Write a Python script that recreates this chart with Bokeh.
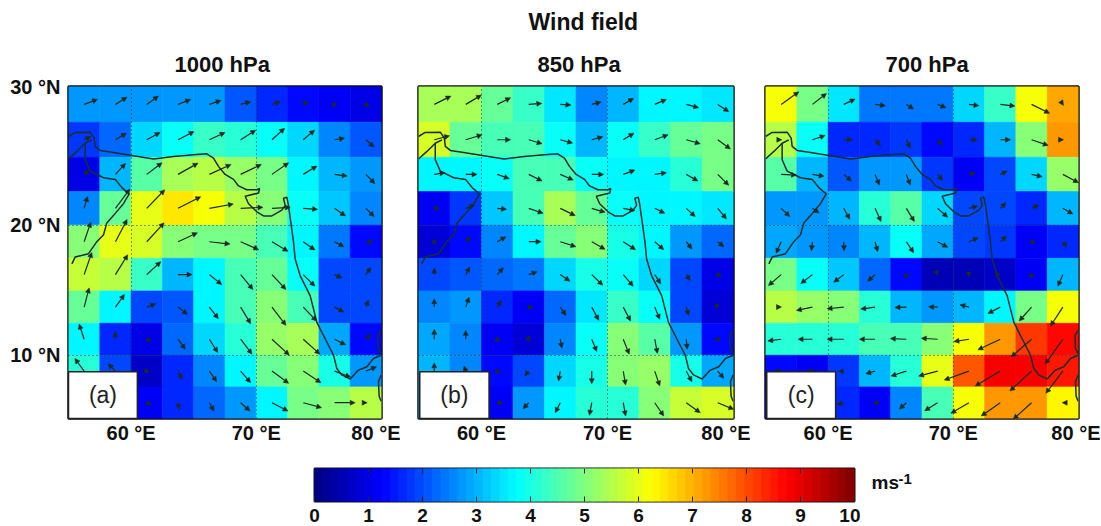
import numpy as np
from bokeh.plotting import figure
from bokeh.layouts import column, row
from bokeh.models import (Arrow, NormalHead, ColumnDataSource, FixedTicker, Title,
                          LinearColorMapper, Range1d)
from bokeh.core.properties import value
from bokeh.embed import file_html
from bokeh.resources import INLINE

speed_a = [
 [2.7,2.7,2.7,2.7,2.7,2.1,1.6,1.4,1.1,1.0],
 [1.8,2.2,3.4,3.9,4.3,4.1,3.8,3.4,2.6,2.1],
 [1.0,3.0,4.6,5.4,5.6,5.2,4.9,3.7,3.0,2.8],
 [2.6,4.7,6.0,6.5,6.2,5.6,5.0,3.8,3.2,2.5],
 [5.0,6.0,5.9,5.0,4.9,4.9,4.5,3.7,2.4,1.3],
 [5.7,5.6,4.3,3.0,3.6,4.5,4.7,3.8,2.0,2.0],
 [4.7,3.7,2.0,2.1,3.6,4.4,5.1,4.4,2.0,2.0],
 [3.7,1.7,1.0,2.2,3.3,4.2,5.2,5.4,2.9,1.4],
 [4.2,1.9,0.7,1.7,2.6,3.6,4.7,5.1,4.0,2.7],
 [4.3,2.2,1.1,1.6,2.2,2.8,3.7,4.9,5.1,5.6],
]
speed_b = [
 [5.4,5.4,4.8,4.3,3.5,2.6,3.0,3.6,3.7,3.5],
 [5.8,4.8,4.4,4.4,3.8,3.0,3.8,4.3,4.7,4.9],
 [3.7,3.7,3.8,4.4,4.4,3.8,3.7,3.7,4.2,4.9],
 [1.2,1.8,3.2,4.5,5.4,4.7,3.9,3.7,3.6,3.5],
 [0.9,1.3,2.5,3.7,4.8,5.0,4.0,3.6,2.7,2.2],
 [2.0,2.1,2.3,2.4,3.4,4.0,3.9,3.4,1.9,1.0],
 [2.6,2.8,1.7,1.1,2.2,3.5,4.3,3.8,1.9,0.9],
 [2.9,2.5,1.1,0.8,2.5,3.8,5.0,4.6,2.7,1.3],
 [3.0,2.6,1.3,1.9,3.3,4.0,5.1,5.2,4.0,2.9],
 [3.0,2.6,1.2,2.8,3.7,4.2,4.2,5.0,5.7,5.8],
]
speed_c = [
 [6.1,4.9,3.5,2.4,2.4,2.4,3.3,4.3,6.1,7.1],
 [5.6,3.8,1.7,1.6,1.8,1.3,1.6,3.1,5.1,7.2],
 [4.6,3.1,2.1,2.8,2.7,1.8,1.2,1.9,3.3,5.2],
 [2.8,2.8,3.0,4.1,4.6,3.3,1.9,2.0,1.7,3.0],
 [2.9,2.7,2.6,3.0,3.8,2.9,2.0,1.8,1.1,1.7],
 [4.9,3.8,3.2,2.3,1.3,0.6,0.6,0.7,1.1,3.0],
 [5.6,5.2,5.0,4.2,3.0,2.8,3.0,3.7,4.9,6.2],
 [4.1,4.1,4.1,4.4,4.4,5.0,6.2,7.3,8.2,8.6],
 [1.3,1.2,1.8,3.0,4.2,6.0,7.9,8.8,8.9,8.5],
 [1.5,1.5,1.7,1.1,2.6,4.5,6.2,7.3,7.3,6.4],
]

u_a = [
 [40,35,35,38,35,30,25,14,8,10],
 [20,33,40,48,47,45,38,34,30,25],
 [15,30,46,60,65,62,50,41,38,27],
 [10,43,54,68,72,67,55,43,33,25],
 [20,35,52,58,62,54,48,35,28,22],
 [23,37,42,42,37,37,42,35,22,15],
 [15,27,27,28,27,30,42,40,28,8],
 [-15,0,15,22,25,34,52,50,33,15],
 [-28,-22,7,13,22,30,50,53,48,32],
 [-20,-10,14,3,14,28,48,55,62,4],
]
v_a = [
 [15,22,25,15,12,8,8,10,0,-7],
 [10,20,22,25,22,29,35,29,5,-22],
 [12,33,35,34,30,30,35,25,-5,-28],
 [36,58,56,35,13,3,3,-3,-23,-25],
 [59,67,57,27,-7,-24,-29,-25,-15,0],
 [67,60,39,0,-30,-45,-45,-35,-10,22],
 [58,38,10,-22,-35,-50,-55,-42,-15,21],
 [46,23,-5,-30,-40,-45,-48,-45,-17,15],
 [38,22,-5,-25,-32,-35,-37,-35,-18,13],
 [30,20,-5,-20,-25,-25,-25,-15,0,0],
]
u_b = [
 [50,47,40,39,32,28,31,35,37,33],
 [46,49,40,40,37,33,32,40,42,38],
 [32,34,36,40,39,36,35,35,35,33],
 [16,27,28,43,45,40,35,30,27,26],
 [6,14,26,37,47,40,37,27,17,18],
 [0,12,18,25,29,33,30,18,12,11],
 [0,10,12,13,17,21,22,15,7,3],
 [0,0,7,5,5,15,18,8,3,3],
 [0,-5,10,-12,-5,0,7,15,17,18],
 [0,-5,17,-17,-15,-7,7,27,42,48],
]
v_b = [
 [25,28,20,3,-2,7,18,15,-10,-22],
 [12,15,0,-12,-10,9,20,15,-12,-28],
 [5,0,-13,-20,-17,0,13,5,-20,-33],
 [0,10,-3,-15,-22,-12,-7,-15,-25,-32],
 [7,15,15,0,-15,-23,-24,-24,-22,-15],
 [20,23,21,9,-20,-32,-35,-28,-18,-5],
 [25,30,20,0,-25,-40,-42,-37,-25,-4],
 [30,27,-8,-7,-27,-37,-45,-43,-30,-10],
 [25,15,-5,-15,-30,-38,-42,-45,-32,-22],
 [20,15,0,-18,-30,-38,-40,-40,-30,-20],
]
u_c = [
 [53,42,34,31,22,25,30,44,54,2],
 [2,38,26,16,12,13,25,31,50,2],
 [46,35,23,13,12,15,20,21,32,47],
 [26,20,18,18,24,30,26,17,22,30],
 [-15,-3,1,8,22,30,28,19,12,12],
 [-38,-35,-30,-22,-3,1,1,1,-5,-15],
 [1,-48,-50,-43,-34,-27,-27,-37,-37,-37],
 [-40,-43,-50,-47,-48,-49,-45,-67,-61,-53],
 [-20,-15,-16,-28,-46,-57,-74,-75,-65,-51],
 [-10,-15,-20,-5,-21,-39,-54,-57,-55,-2],
]
v_c = [
 [38,33,16,-4,-14,-10,-4,-5,-27,-3],
 [0,13,0,-17,-25,-17,0,0,-17,0],
 [-2,-6,-20,-32,-32,-18,5,10,-7,-25],
 [-25,-14,-33,-40,-40,-27,7,17,10,-17],
 [-35,-27,-27,-30,-33,-17,12,17,-3,-17],
 [-33,-27,-23,-20,-12,-2,-7,0,-12,-35],
 [0,-10,-5,-6,-1,1,7,-19,-42,-57],
 [-5,0,0,0,2,3,-7,-32,-53,-75],
 [0,0,-2,-8,-15,-15,-27,-45,-60,-67],
 [-5,-5,-5,0,-19,-24,-32,-40,-50,0],
]

coast_lon = [55.0,55.53,56.73,57.05,57.13,57.53,58.59,60.19,61.79,63.39,64.98,66.05,66.58,66.98,67.51,68.18,68.58,69.24,70.04,70.26,70.18,69.11,69.38,70.04,70.58,71.24,72.04,72.31,72.17,72.44,72.57,72.71,72.97,73.10,73.5,74.3,74.84,75.5,76.17,76.43,76.83,77.5,78.16,78.83,79.36,79.97]
coast_lat = [26.49,26.78,26.80,26.37,25.78,25.49,25.35,25.11,24.87,25.06,25.18,25.25,24.94,24.34,23.75,23.39,22.91,22.63,22.63,22.72,22.39,22.15,21.60,21.0,20.69,20.69,21.12,21.48,22.0,22.08,21.48,20.52,18.76,17.47,16.18,14.64,12.57,11.29,10.0,8.96,8.45,8.13,8.83,9.09,9.74,10.0]
oman_lon = [55.0,55.67,56.33,56.86]
oman_lat = [24.87,25.42,26.01,26.25]
arabia_lon = [56.33,56.33,56.73,57.8,58.73,59.26,59.85,59.39,58.73,58.06,57.8,57.26,56.6,55.53,55.27]
arabia_lat = [26.01,24.82,23.99,23.51,23.39,22.79,22.32,21.6,20.88,20.17,19.28,18.76,17.85,17.59,17.07]
lanka1_lon = [79.97,79.71,79.76,79.97]
lanka1_lat = [11.93,11.55,10.52,10.13]
lanka2_lon = [79.97,79.76,79.81,79.97]
lanka2_lat = [8.45,7.93,6.76,6.37]

lon_edges = [55,57.5,60,62.5,65,67.5,70,72.5,75,77.5,80]
lat_edges = [30,27.5,25,22.5,20,17.5,15,12.5,10,7.5,5]
lon_ticks = [60,70,80]
lon_labels = ["60 °E","70 °E","80 °E"]
lat_ticks = [10,20,30]
lat_labels = ["10 °N","20 °N","30 °N"]
titles = ["1000 hPa","850 hPa","700 hPa"]
tags = ["(a)","(b)","(c)"]
cbar_ticks = [0,1,2,3,4,5,6,7,8,9,10]

FONT = "Liberation Sans"

def merc(lat):
    return np.log(np.tan(np.pi/4 + np.radians(lat)/2))

def jet(n=64):
    out = []
    for i in range(n):
        t = (i + 0.5) / n
        r = np.clip(min(4*t-1.5, -4*t+4.5), 0, 1)
        g = np.clip(min(4*t-0.5, -4*t+3.5), 0, 1)
        b = np.clip(min(4*t+0.5, -4*t+2.5), 0, 1)
        out.append("#%02x%02x%02x" % (int(r*255), int(g*255), int(b*255)))
    return out

PALETTE = jet()
mapper = LinearColorMapper(palette=PALETTE, low=0, high=10)
M_TOP, M_BOT = merc(30), merc(5)


def title_of(text, off, standoff=19, size="22px"):
    return Title(text=text, align="left", offset=off, standoff=standoff, text_font=FONT,
                 text_font_style="bold", text_font_size=size, text_color="#111111")


def panel(speed, u, v, width, left, right, frame_w, tag, box_l, show_y):
    p = figure(width=width, height=450, output_backend="svg", toolbar_location=None,
               x_range=Range1d(55, 80), y_range=Range1d(M_BOT, M_TOP),
               min_border_left=left, min_border_right=right, min_border_top=84, min_border_bottom=32,
               tools="")
    p.background_fill_color = "white"
    p.outline_line_color = "#111111"
    p.outline_line_width = 2.5
    l, r, t, b, s = [], [], [], [], []
    for i in range(10):
        for j in range(10):
            l.append(lon_edges[j]); r.append(lon_edges[j+1])
            t.append(merc(lat_edges[i])); b.append(merc(lat_edges[i+1]))
            s.append(speed[i][j])
    src = ColumnDataSource(dict(l=l, r=r, t=t, b=b, s=s))
    tr = {"field": "s", "transform": mapper}
    p.quad(left="l", right="r", top="t", bottom="b", source=src, fill_color=tr, line_color=tr, line_width=0.6)

    for xs, ys in [(coast_lon, coast_lat), (oman_lon, oman_lat), (arabia_lon, arabia_lat),
                   (lanka1_lon, lanka1_lat), (lanka2_lon, lanka2_lat)]:
        p.line(xs, [merc(y) for y in ys], line_color="#16302f", line_width=1.5)

    # arrows: tails at cell centres; components in units of one third of a pixel
    px_deg = 3 * frame_w / 25.0
    px_merc = 3 * 334.0 / (M_TOP - M_BOT)
    xs0, ys0, xs1, ys1 = [], [], [], []
    for i in range(10):
        yc = 0.5 * (merc(lat_edges[i]) + merc(lat_edges[i+1]))
        for j in range(10):
            xc = 0.5 * (lon_edges[j] + lon_edges[j+1])
            xs0.append(xc); ys0.append(yc)
            xs1.append(xc + u[i][j] / px_deg); ys1.append(yc + v[i][j] / px_merc)
    asrc = ColumnDataSource(dict(x0=xs0, y0=ys0, x1=xs1, y1=ys1))
    head = NormalHead(size=5, fill_color="#1c2a22", line_color="#1c2a22", line_width=0.5)
    p.add_layout(Arrow(end=head, x_start="x0", y_start="y0", x_end="x1", y_end="y1", source=asrc,
                       line_color="#1c2a22", line_width=1.2, level="annotation"))

    p.xaxis.ticker = FixedTicker(ticks=lon_ticks)
    p.xaxis.major_label_overrides = dict(zip(lon_ticks, lon_labels))
    p.yaxis.ticker = FixedTicker(ticks=[merc(x) for x in lat_ticks])
    p.yaxis.major_label_overrides = {merc(x): lab for x, lab in zip(lat_ticks, lat_labels)}
    for ax in (p.xaxis, p.yaxis):
        ax.axis_line_color = None
        ax.major_tick_line_color = None
        ax.minor_tick_line_color = None
        ax.major_label_text_font = FONT
        ax.major_label_text_font_style = "bold"
        ax.major_label_text_font_size = "20px"
        ax.major_label_text_color = "#111111"
    p.xaxis.major_tick_out = 0
    p.xaxis.major_label_standoff = 3
    p.yaxis.major_label_standoff = 2
    p.yaxis.visible = show_y

    p.xgrid.ticker = FixedTicker(ticks=lon_ticks[:2])
    p.ygrid.ticker = FixedTicker(ticks=[merc(x) for x in lat_ticks[:2]])
    for g in (p.xgrid, p.ygrid):
        g.grid_line_color = "#22343a"
        g.grid_line_dash = "1 3"
        g.grid_line_width = 1
        g.level = "annotation"

    p.quad(left=[box_l], right=[box_l + 5.5], top=[merc(8.7)], bottom=[M_BOT], fill_color="white",
           line_color="#222222", line_width=1.5, level="overlay")
    p.text(x=[box_l + 2.75], y=[merc(6.85)], text=[tag], text_align="center", text_baseline="middle",
           text_font=value(FONT), text_font_size="23px", text_color="#222222", level="overlay")
    return p


pa = panel(speed_a, u_a, v_a, 400, 68, 19, 313, tags[0], 55.0, True)
pb = panel(speed_b, u_b, v_b, 350, 18, 17, 315, tags[1], 55.1, False)
pc = panel(speed_c, u_c, v_c, 350, 15, 22, 313, tags[2], 55.1, False)
pa.title = title_of(titles[0], 106)
pc.title = title_of(titles[2], 120)
# the title added last sits next to the frame
pb.title = title_of("Wind field", 110, standoff=12, size="23px")
pb.add_layout(title_of(titles[1], 119), "above")

# colour bar
cb = figure(width=860, height=76, output_backend="svg", toolbar_location=None,
            x_range=Range1d(0, 10), y_range=Range1d(0, 1),
            min_border_left=314, min_border_right=6, min_border_top=18, min_border_bottom=25, tools="")
cb.outline_line_color = "#111111"
cb.outline_line_width = 2
n = len(PALETTE)
edges = [10.0 * k / n for k in range(n + 1)]
cb.quad(left=edges[:-1], right=edges[1:], top=[1]*n, bottom=[0]*n, fill_color=PALETTE, line_color=PALETTE, line_width=1)
cb.segment(x0=cbar_ticks, x1=cbar_ticks, y0=[1]*11, y1=[0.85]*11, line_color="#222222", line_width=1)
cb.xgrid.visible = False
cb.ygrid.visible = False
cb.yaxis.visible = False
cb.xaxis.ticker = FixedTicker(ticks=cbar_ticks)
cb.xaxis.axis_line_color = None
cb.xaxis.minor_tick_line_color = None
cb.xaxis.major_tick_in = 5
cb.xaxis.major_tick_out = 0
cb.xaxis.major_tick_line_color = "#222222"
cb.xaxis.major_label_standoff = 7
cb.xaxis.major_label_text_font = FONT
cb.xaxis.major_label_text_font_style = "bold"
cb.xaxis.major_label_text_font_size = "19px"
cb.xaxis.major_label_text_color = "#111111"

# unit label beside the colour bar
unit = figure(width=240, height=76, output_backend="svg", toolbar_location=None,
              x_range=Range1d(0, 240), y_range=Range1d(0, 76),
              min_border_left=0, min_border_right=0, min_border_top=0, min_border_bottom=0, tools="")
unit.axis.visible = False
unit.grid.visible = False
unit.outline_line_color = None
unit.text(x=[11], y=[43], text=["ms"], text_baseline="alphabetic", text_font=value(FONT),
          text_font_style="bold", text_font_size="19px", text_color="#111111")
unit.text(x=[38], y=[52], text=["-1"], text_baseline="alphabetic", text_font=value(FONT),
          text_font_style="bold", text_font_size="15px", text_color="#111111")

page = column(row(pa, pb, pc), row(cb, unit))
open("out.html", "w").write(file_html(page, INLINE))
